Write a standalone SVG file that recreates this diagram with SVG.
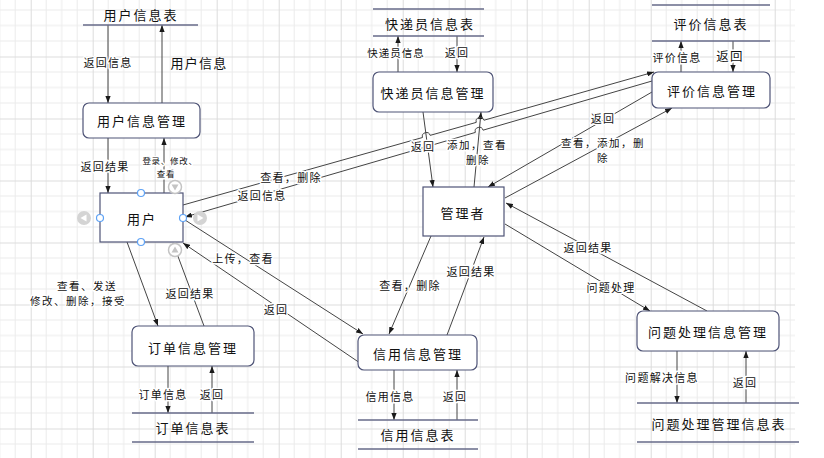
<svg xmlns="http://www.w3.org/2000/svg" width="824" height="458" viewBox="0 0 824 458">
<defs>
<pattern id="grid" patternUnits="userSpaceOnUse" x="-31.3" y="-5.5" width="62" height="62">
<path d="M15.5,0V62M31,0V62M46.5,0V62M0,15.5H62M0,31H62M0,46.5H62" stroke="#ebebeb" stroke-width="1" fill="none"/>
<path d="M0.5,0V62M0,0.5H62" stroke="#dcdcdc" stroke-width="1" fill="none"/>
</pattern>
<marker id="arr" viewBox="0 0 8 6" refX="8" refY="3" markerWidth="7" markerHeight="5.5" markerUnits="userSpaceOnUse" orient="auto">
<path d="M0,0L8,3L0,6z" fill="#1a1a1a"/>
</marker>
<style>
.t{font-family:"Noto Sans CJK SC","Noto Sans CJK JP",sans-serif;fill:#111;text-anchor:middle;dominant-baseline:central}
.n{font-size:13px;letter-spacing:2px}
.l{font-size:11px;letter-spacing:1.3px;paint-order:stroke;stroke:#fff;stroke-width:3px;stroke-linejoin:round}
.m{font-size:10.5px;letter-spacing:1.5px}
.s{font-size:8.5px;letter-spacing:0.7px;paint-order:stroke;stroke:#fff;stroke-width:3px;stroke-linejoin:round}
.box{fill:#fff;stroke:#4f5477;stroke-width:1.2}
.tbl{stroke:#666a88;stroke-width:1.6;fill:none}
.e{fill:none;stroke:#444;stroke-width:1;marker-end:url(#arr)}
.h{fill:#fff;stroke:#5ea2f5;stroke-width:1.2}
</style>
</defs>
<rect x="0" y="0" width="824" height="458" fill="#fff"/>
<rect x="0" y="0" width="795" height="458" fill="url(#grid)"/>

<g id="connectors">
<path class="e" d="M108,25L108,103"/>
<path class="e" d="M162,103L162,25"/>
<path class="e" d="M108,138L108,193"/>
<path class="e" d="M164,193L164,138"/>
<path class="e" d="M398,72L398,36"/>
<path class="e" d="M457,36L457,72"/>
<path class="e" d="M681,72L681,41"/>
<path class="e" d="M733,41L733,72"/>
<path class="e" d="M168,366L168,413"/>
<path class="e" d="M212,413L212,366"/>
<path class="e" d="M394,370L394,420"/>
<path class="e" d="M457,420L457,370"/>
<path class="e" d="M677,351L677,403"/>
<path class="e" d="M746,403L746,351"/>
<path class="e" d="M127,242L158,326"/>
<path class="e" d="M204,326L173,243"/>
<path class="e" d="M185,220L363,334"/>
<path class="e" d="M360,363L183,243"/>
<path class="e" d="M423,112L433,187"/>
<path class="e" d="M474,187L481,112"/>
<path class="e" d="M183,205L422.45,137.53A4,4 0 0 1 430.15,135.37L476.25,122.38A4,4 0 0 1 483.95,120.22L654,72"/>
<path class="e" d="M652,81L483.04,130.18A4,4 0 0 0 475.36,132.42L431.44,145.28A4,4 0 0 0 423.76,147.52L185,217"/>
<path class="e" d="M652,92L488,187"/>
<path class="e" d="M505,198L672,108"/>
<path class="e" d="M431,236L389,334"/>
<path class="e" d="M447,335L484,237"/>
<path class="e" d="M707,311L506,203"/>
<path class="e" d="M505,224L650,311"/>
</g>

<g id="edge-labels">
<text class="t l" x="108" y="62">返回信息</text>
<text class="t n" x="199" y="62" style="letter-spacing:1.2px">用户信息</text>
<text class="t l" x="105" y="166">返回结果</text>
<text class="t s" x="170" y="159.5">登录、修改、</text>
<text class="t s" x="166" y="172.5">查看</text>
<text class="t l" x="396" y="52" style="font-size:10.5px;letter-spacing:1px">快递员信息</text>
<text class="t l" x="457" y="52">返回</text>
<text class="t l" x="677" y="57">评价信息</text>
<text class="t l" x="730" y="55" style="font-size:12.5px">返回</text>
<text class="t l" x="423" y="146">返回</text>
<text class="t l m" x="477" y="144">添加，查看</text>
<text class="t l m" x="478" y="159.5">删除</text>
<text class="t l" x="291" y="177">查看，删除</text>
<text class="t l" x="262" y="195">返回信息</text>
<text class="t l" x="603" y="118">返回</text>
<text class="t l m" x="603" y="142.5">查看，添加，删</text>
<text class="t l m" x="603" y="157.5">除</text>
<text class="t l" x="588" y="247">返回结果</text>
<text class="t l" x="611" y="287">问题处理</text>
<text class="t l" x="662" y="377">问题解决信息</text>
<text class="t l" x="745" y="382">返回</text>
<text class="t l" x="410" y="285">查看，删除</text>
<text class="t l" x="471" y="271">返回结果</text>
<text class="t l" x="390" y="396">信用信息</text>
<text class="t l" x="455" y="396">返回</text>
<text class="t l" x="163" y="394">订单信息</text>
<text class="t l" x="212" y="394">返回</text>
<text class="t l m" x="87" y="285">查看、发送</text>
<text class="t l m" x="78" y="300.5">修改、删除，接受</text>
<text class="t l" x="190" y="293">返回结果</text>
<text class="t l" x="243" y="258">上传，查看</text>
<text class="t l" x="276" y="309">返回</text>
</g>

<g id="user-info-table">
<line class="tbl" x1="83" y1="25" x2="198" y2="25"/>
<text class="t n" x="141" y="14">用户信息表</text>
</g>
<g id="user-info-mgmt">
<rect class="box" x="83" y="103" width="117" height="35" rx="6"/>
<text class="t n" x="142" y="120">用户信息管理</text>
</g>
<g id="user">
<rect class="box" x="100" y="193" width="83" height="49"/>
<text class="t n" x="142" y="218">用户</text>
</g>
<g id="courier-table">
<line class="tbl" x1="373" y1="9" x2="484" y2="9"/>
<line class="tbl" x1="373" y1="36" x2="484" y2="36"/>
<text class="t n" x="430" y="23">快递员信息表</text>
</g>
<g id="courier-mgmt">
<rect class="box" x="373" y="72" width="120" height="40" rx="6"/>
<text class="t n" x="433" y="92">快递员信息管理</text>
</g>
<g id="review-table">
<line class="tbl" x1="652" y1="5" x2="770" y2="5"/>
<line class="tbl" x1="652" y1="41" x2="770" y2="41"/>
<text class="t n" x="711" y="23">评价信息表</text>
</g>
<g id="review-mgmt">
<rect class="box" x="652" y="72" width="118" height="36" rx="6"/>
<text class="t n" x="712" y="90">评价信息管理</text>
</g>
<g id="admin">
<rect class="box" x="423" y="187" width="81" height="49"/>
<text class="t n" x="463" y="212">管理者</text>
</g>
<g id="order-mgmt">
<rect class="box" x="132" y="326" width="122" height="40" rx="6"/>
<text class="t n" x="193" y="347">订单信息管理</text>
</g>
<g id="order-table">
<line class="tbl" x1="132" y1="413" x2="254" y2="413"/>
<line class="tbl" x1="132" y1="442" x2="254" y2="442"/>
<text class="t n" x="193" y="427">订单信息表</text>
</g>
<g id="credit-mgmt">
<rect class="box" x="358" y="335" width="119" height="35" rx="6"/>
<text class="t n" x="418" y="353">信用信息管理</text>
</g>
<g id="credit-table">
<line class="tbl" x1="358" y1="420" x2="478" y2="420"/>
<line class="tbl" x1="358" y1="449" x2="478" y2="449"/>
<text class="t n" x="418" y="434">信用信息表</text>
</g>
<g id="issue-mgmt">
<rect class="box" x="637" y="311" width="142" height="40" rx="6"/>
<text class="t n" x="708" y="331">问题处理信息管理</text>
</g>
<g id="issue-table">
<line class="tbl" x1="637" y1="403" x2="799" y2="403"/>
<line class="tbl" x1="637" y1="442" x2="799" y2="442"/>
<text class="t n" x="719" y="423">问题处理管理信息表</text>
</g>

<g id="selection-handles">
<circle class="h" cx="141" cy="193" r="3.5"/>
<circle class="h" cx="141" cy="242" r="3.5"/>
<circle class="h" cx="100" cy="218" r="3.5"/>
<circle class="h" cx="183" cy="218" r="3.5"/>
<circle cx="84" cy="218" r="7" fill="#d4d4d4"/>
<path d="M80.5,218L86.5,214.5V221.5z" fill="#fff"/>
<circle cx="200" cy="218" r="7" fill="#d4d4d4"/>
<path d="M203.5,218L197.5,214.5V221.5z" fill="#fff"/>
<circle cx="175" cy="187" r="6.5" fill="#fff" stroke="#c4c4c4" stroke-width="1.5"/>
<path d="M175,190.5L171.5,184.5H178.5z" fill="#c4c4c4"/>
<circle cx="175" cy="250" r="6.5" fill="#fff" stroke="#c4c4c4" stroke-width="1.5"/>
<path d="M175,246.5L171.5,252.5H178.5z" fill="#c4c4c4"/>
</g>
</svg>
